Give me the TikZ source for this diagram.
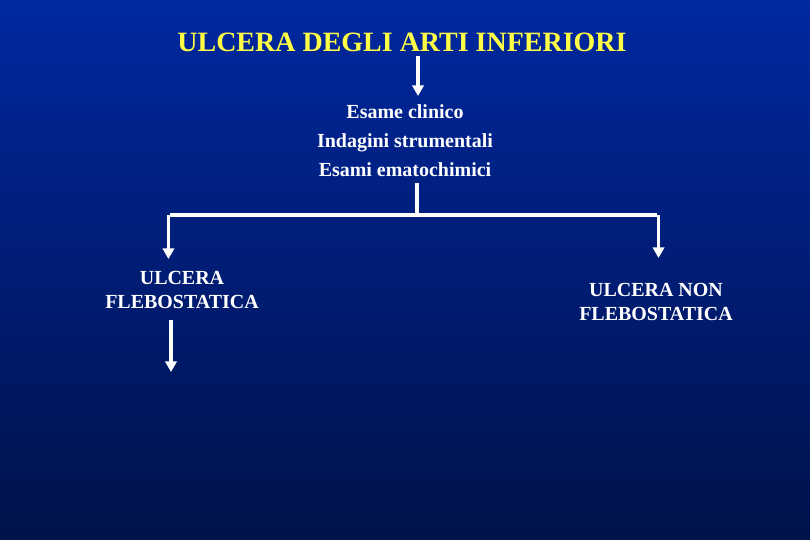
\documentclass[tikz,border=0pt]{standalone}
\usepackage{fontspec}
\setmainfont{Liberation Serif}
\usepackage{tikz}
\usetikzlibrary{arrows.meta, positioning}
\definecolor{slidetop}{RGB}{0,40,160}
\definecolor{slidemid}{RGB}{0,33,130}
\definecolor{slidebot}{RGB}{0,18,74}
\definecolor{titleyellow}{RGB}{255,255,70}
\tikzset{
    textbox/.style={text=white, align=center, font=\bfseries\fontsize{14.2}{17}\selectfont, inner sep=0pt},
    arrow/.style={white, line width=2.2pt, -{Triangle[width=8pt, length=7.5pt]}},
    link/.style={white, line width=2.2pt}
}

\begin{document}
\begin{tikzpicture}[x=0.025cm, y=-0.025cm]
    \useasboundingbox (0,0) rectangle (810,540);
    \shade[top color=slidetop, middle color=slidemid, bottom color=slidebot] (0,0) rectangle (810,540);

    \node (title) [text=titleyellow, font=\bfseries\fontsize{19.9}{24}\selectfont, inner sep=0pt] at (402,42) {ULCERA DEGLI ARTI INFERIORI};
    \node (exams) [textbox, font=\bfseries\fontsize{14.2}{20.6}\selectfont] at (405,141) {Esame clinico\\Indagini strumentali\\Esami ematochimici};
    \node (flebo) [textbox] at (182,290) {ULCERA\\FLEBOSTATICA};
    \node (nonflebo) [textbox] at (656,302) {ULCERA NON\\FLEBOSTATICA};

    \coordinate (trunk) at (418,56);
    \coordinate (split) at (417,215);
    \coordinate (left) at (170,215);
    \coordinate (right) at (657,215);
    \coordinate (next) at (171,372);

    \draw [arrow] (trunk) -- (418,96);
    \draw [link] ([yshift=-4pt]exams.south -| split) -- (split);
    \draw [link] (left) -- (right);
    \draw [arrow] ([xshift=-1.1pt]left) -- ++(0,44);
    \draw [arrow] ([xshift=1.1pt]right) -- ++(0,43);
    \draw [arrow] ([yshift=-8pt]flebo.south -| next) -- (next);
\end{tikzpicture}
\end{document}
